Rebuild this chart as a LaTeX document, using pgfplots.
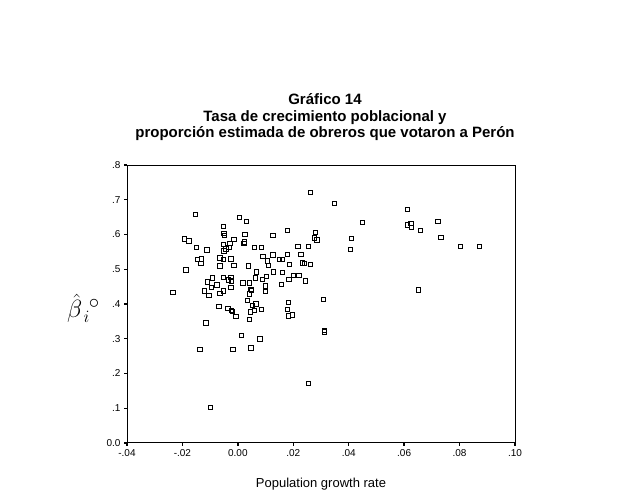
\documentclass[border=0pt]{standalone}
\usepackage{fontspec}
\setmainfont{Liberation Sans}
\usepackage{pgfplots}
\pgfplotsset{compat=1.18}
\pgfplotstableread{
x y
0.0262 0.721
-0.0153 0.657
0.0005 0.649
0.0032 0.638
-0.0051 0.624
0.0180 0.611
0.0281 0.606
-0.0050 0.603
-0.0048 0.598
0.0025 0.601
0.0126 0.598
0.0277 0.590
0.0286 0.584
-0.0192 0.587
-0.0176 0.582
-0.0014 0.586
0.0024 0.579
0.0022 0.574
-0.0029 0.574
-0.0051 0.571
-0.0150 0.563
-0.0032 0.562
-0.0043 0.558
-0.0112 0.555
0.0059 0.563
0.0086 0.563
0.0217 0.566
0.0254 0.566
-0.0050 0.553
0.0227 0.543
0.0090 0.536
0.0126 0.541
0.0180 0.543
-0.0145 0.529
-0.0132 0.530
-0.0065 0.533
-0.0025 0.530
-0.0051 0.529
0.0149 0.529
0.0161 0.529
0.0106 0.524
-0.0133 0.517
0.0187 0.514
0.0233 0.518
0.0240 0.516
0.0263 0.514
-0.0065 0.509
-0.0014 0.511
0.0038 0.509
0.0110 0.511
-0.0188 0.498
0.0066 0.492
0.0129 0.492
0.0160 0.490
0.0200 0.483
0.0221 0.483
-0.0092 0.475
-0.0051 0.477
-0.0025 0.477
-0.0033 0.469
-0.0024 0.466
0.0063 0.475
0.0089 0.471
0.0103 0.479
0.0185 0.471
0.0244 0.466
-0.0109 0.463
0.0019 0.461
0.0042 0.460
-0.0076 0.455
-0.0096 0.447
-0.0025 0.447
0.0100 0.452
0.0157 0.457
0.0047 0.442
0.0048 0.439
-0.0234 0.434
-0.0120 0.437
-0.0065 0.431
-0.0053 0.437
0.0042 0.429
0.0100 0.436
-0.0105 0.425
0.0308 0.413
0.0034 0.410
0.0053 0.395
0.0065 0.400
-0.0068 0.393
-0.0036 0.388
-0.0024 0.381
-0.0019 0.378
0.0060 0.382
0.0046 0.377
0.0086 0.385
-0.0007 0.364
0.0041 0.356
0.0183 0.404
0.0180 0.385
0.0183 0.366
0.0198 0.369
-0.0115 0.345
0.0312 0.324
0.0312 0.319
0.0012 0.310
0.0079 0.299
-0.0137 0.270
-0.0018 0.270
0.0047 0.273
0.0255 0.172
-0.0098 0.102
0.0349 0.690
0.0612 0.672
0.0450 0.635
0.0722 0.638
0.0612 0.627
0.0625 0.631
0.0626 0.621
0.0658 0.611
0.0410 0.589
0.0733 0.592
0.0406 0.557
0.0804 0.565
0.0871 0.565
0.0651 0.440
}\pts
\begin{document}
\begin{tikzpicture}[x=1pt,y=1pt]
\path[use as bounding box, fill=white] (0,0) rectangle (626,502);
\node[anchor=base, font=\fontsize{15}{18}\selectfont\bfseries] at (325,397) {Gráfico 14};
\node[anchor=base, font=\fontsize{15}{18}\selectfont\bfseries] at (325,380.3) {Tasa de crecimiento poblacional y};
\node[anchor=base, font=\fontsize{15}{18}\selectfont\bfseries] at (325,364.5) {proporción estimada de obreros que votaron a Perón};
\begin{axis}[
  at={(127pt,59pt)}, anchor=south west,
  scale only axis, width=388pt, height=278pt,
  xmin=-0.04, xmax=0.10, ymin=0, ymax=0.8,
  xtick={-0.04,-0.02,0,0.02,0.04,0.06,0.08,0.10},
  xticklabels={-.04,-.02,0.00,.02,.04,.06,.08,.10},
  ytick={0,0.1,0.2,0.3,0.4,0.5,0.6,0.7,0.8},
  yticklabels={0.0,.1,.2,.3,.4,.5,.6,.7,.8},
  tick pos=left, tick align=outside,
  major tick length=3pt,
  tick style={line width=1.3pt, black},
  axis line style={line width=1pt, black},
  ticklabel style={font=\fontsize{10}{12}\selectfont},
  /pgf/number format/assume math mode=true,
  axis background/.style={fill=white},
]
\addplot[only marks, mark=square, mark size=2.2pt, mark options={line width=0.9pt, black}] table[x=x, y=y] {\pts};
\end{axis}
\node[font=\fontsize{13}{15}\selectfont] at (321,18) {Population growth rate};
\node[anchor=base west, inner sep=0pt, font=\fontsize{24}{28}\selectfont] at (67,184) {$\hat{\beta}$};
\node[anchor=base west, inner sep=0pt, font=\fontsize{16}{18}\selectfont] at (83.5,179) {$i$};
\node[anchor=center, inner sep=0pt, font=\fontsize{20}{24}\selectfont] at (94,198) {$\circ$};
\end{tikzpicture}
\end{document}
